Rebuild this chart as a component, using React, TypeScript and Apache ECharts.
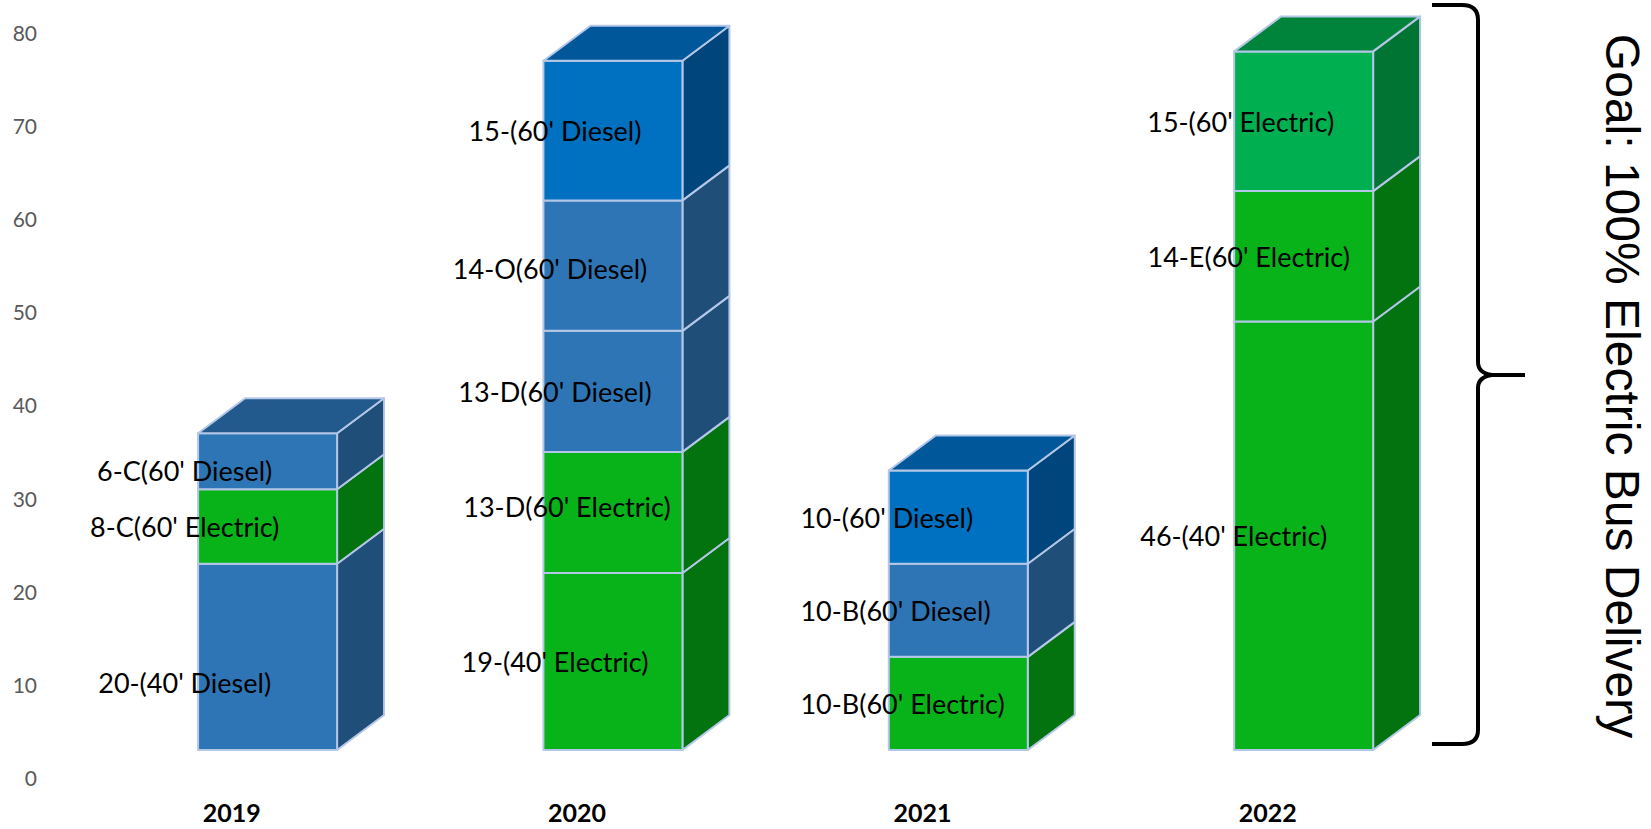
import React, { useEffect, useRef } from "react";
import * as echarts from "echarts";

// ---- data ----
const years = ["2019", "2020", "2021", "2022"];
const yMin = 0;
const yMax = 80;
const yStep = 10;

// stacked segments per year, bottom to top
const segmentValues = [
  [20, 8, 6],
  [19, 13, 13, 14, 15],
  [10, 10, 10],
  [46, 14, 15],
];
const segmentLabels = [
  ["20-(40' Diesel)", "8-C(60' Electric)", "6-C(60' Diesel)"],
  ["19-(40' Electric)", "13-D(60' Electric)", "13-D(60' Diesel)", "14-O(60' Diesel)", "15-(60' Diesel)"],
  ["10-B(60' Electric)", "10-B(60' Diesel)", "10-(60' Diesel)"],
  ["46-(40' Electric)", "14-E(60' Electric)", "15-(60' Electric)"],
];
const segmentKinds = [
  ["diesel", "electric", "diesel"],
  ["electric", "electric", "diesel", "diesel", "dieselNew"],
  ["electric", "diesel", "dieselNew"],
  ["electric", "electric", "electricNew"],
];
const goalText = "Goal: 100% Electric Bus Delivery";

// ---- styles / layout ----
const palette: Record<string, { front: string; side: string; top: string }> = {
  diesel: { front: "#2E75B6", side: "#1F4E79", top: "#235A8E" },
  dieselNew: { front: "#0070C0", side: "#00467C", top: "#00579A" },
  electric: { front: "#08B31A", side: "#03730F", top: "#058A14" },
  electricNew: { front: "#00B050", side: "#007433", top: "#00833B" },
};
// label anchor per year, px from category centre, and its alignment
const labelShift = [-47, -22, -122, -27];
const labelAlign = ["center", "center", "left", "center"];
// small manual nudges of individual labels [dx, dy] in px
const labelNudge: Record<string, [number, number]> = {
  "20-(40' Diesel)": [0, 26],
  "6-C(60' Diesel)": [0, 9],
  "13-D(60' Electric)": [12, -6],
  "14-O(60' Diesel)": [-5, 3],
  "14-E(60' Electric)": [8, 0],
  "46-(40' Electric)": [-7, 0],
};
const edgeColor = "#B4C7E7";
const labelFont = "Lato, 'Noto Sans', sans-serif";

type Seg = { year: number; base: number; value: number; kind: string; label: string; isTop: boolean };
const flat: Seg[] = [];
segmentValues.forEach((vals, yi) => {
  let base = 0;
  vals.forEach((v, si) => {
    flat.push({
      year: yi,
      base,
      value: v,
      kind: segmentKinds[yi][si],
      label: segmentLabels[yi][si],
      isTop: si === vals.length - 1,
    });
    base += v;
  });
});

const bracePath =
  "M1432 5 L1462 5 Q1478 5 1478 20 L1478 362 Q1478 373 1492 375 L1525 375 M1492 375 Q1478 377 1478 388 L1478 730 Q1478 744 1462 744 L1432 744";

export default function App() {
  const ref = useRef<HTMLDivElement>(null);
  useEffect(() => {
    if (!ref.current) return;
    try {
      echarts.graphic.registerShape("brace", echarts.graphic.extendPath(bracePath, {}) as any);
    } catch (e) {
      /* already registered */
    }
    const chart = echarts.init(ref.current, null, { renderer: "svg" });

    const renderItem = (params: any, api: any) => {
      const seg = flat[params.dataIndex];
      const band = api.size([1, 0])[0];
      const p0 = api.coord([seg.year, seg.base]);
      const p1 = api.coord([seg.year, seg.base + seg.value]);
      const lift = 27.5;
      const w = band * 0.4025;
      const cx = p0[0] + band * 0.104;
      const x0 = cx - w / 2;
      const x1 = cx + w / 2;
      const yb = p0[1] - lift;
      const yt = p1[1] - lift;
      const dx = band * 0.136;
      const dy = -35;
      const col = palette[seg.kind];
      const stroke = { stroke: edgeColor, lineWidth: 2, lineJoin: "round" };
      const children: any[] = [
        {
          type: "polygon",
          shape: { points: [[x1, yb], [x1 + dx, yb + dy], [x1 + dx, yt + dy], [x1, yt]] },
          style: { fill: col.side, ...stroke },
        },
        {
          type: "rect",
          shape: { x: x0, y: yt, width: w, height: yb - yt },
          style: { fill: col.front, ...stroke },
        },
      ];
      if (seg.isTop) {
        children.push({
          type: "polygon",
          shape: { points: [[x0, yt], [x0 + dx, yt + dy], [x1 + dx, yt + dy], [x1, yt]] },
          style: { fill: col.top, ...stroke },
        });
      }
      const nudge = labelNudge[seg.label] || [0, 0];
      children.push({
        type: "text",
        z2: 100,
        x: p0[0] + labelShift[seg.year] + nudge[0],
        y: (yt + yb) / 2 + nudge[1],
        style: {
          text: seg.label,
          fill: "#000000",
          fontSize: 27,
          fontFamily: labelFont,
          align: labelAlign[seg.year],
          verticalAlign: "middle",
        },
      });
      return { type: "group", children };
    };

    chart.setOption({
      animation: false,
      grid: { left: 59, right: 210.6, top: 32.3, bottom: 51.5, containLabel: false },
      xAxis: {
        type: "category",
        data: years,
        axisLine: { show: false },
        axisTick: { show: false },
        splitLine: { show: false },
        axisLabel: {
          margin: 22,
          fontSize: 25,
          fontWeight: "bold",
          fontFamily: labelFont,
          color: "#000000",
        },
      },
      yAxis: {
        type: "value",
        min: yMin,
        max: yMax,
        interval: yStep,
        axisLine: { show: false },
        axisTick: { show: false },
        splitLine: { show: false },
        axisLabel: {
          margin: 22,
          fontSize: 21,
          fontFamily: labelFont,
          color: "#595959",
        },
      },
      series: [
        {
          type: "custom",
          renderItem,
          data: flat.map((s) => [s.year, s.base, s.value]),
          encode: { x: 0, y: [1, 2] },
          clip: false,
        },
      ],
      graphic: [
        {
          type: "brace",
          x: 0,
          y: 0,
          style: { fill: "none", stroke: "#000000", lineWidth: 4, lineCap: "butt", lineJoin: "round" },
        },
        {
          type: "text",
          x: 1622,
          y: 386,
          rotation: -Math.PI / 2,
          style: {
            text: goalText,
            fontSize: 48,
            fontFamily: "'Liberation Sans', Arial, sans-serif",
            fill: "#000000",
            align: "center",
            verticalAlign: "middle",
          },
        },
      ],
    });
    return () => chart.dispose();
  }, []);
  return (
    <div
      ref={ref}
      style={{ position: "fixed", left: 0, top: 0, width: 1651, height: 829, background: "#ffffff" }}
    />
  );
}
